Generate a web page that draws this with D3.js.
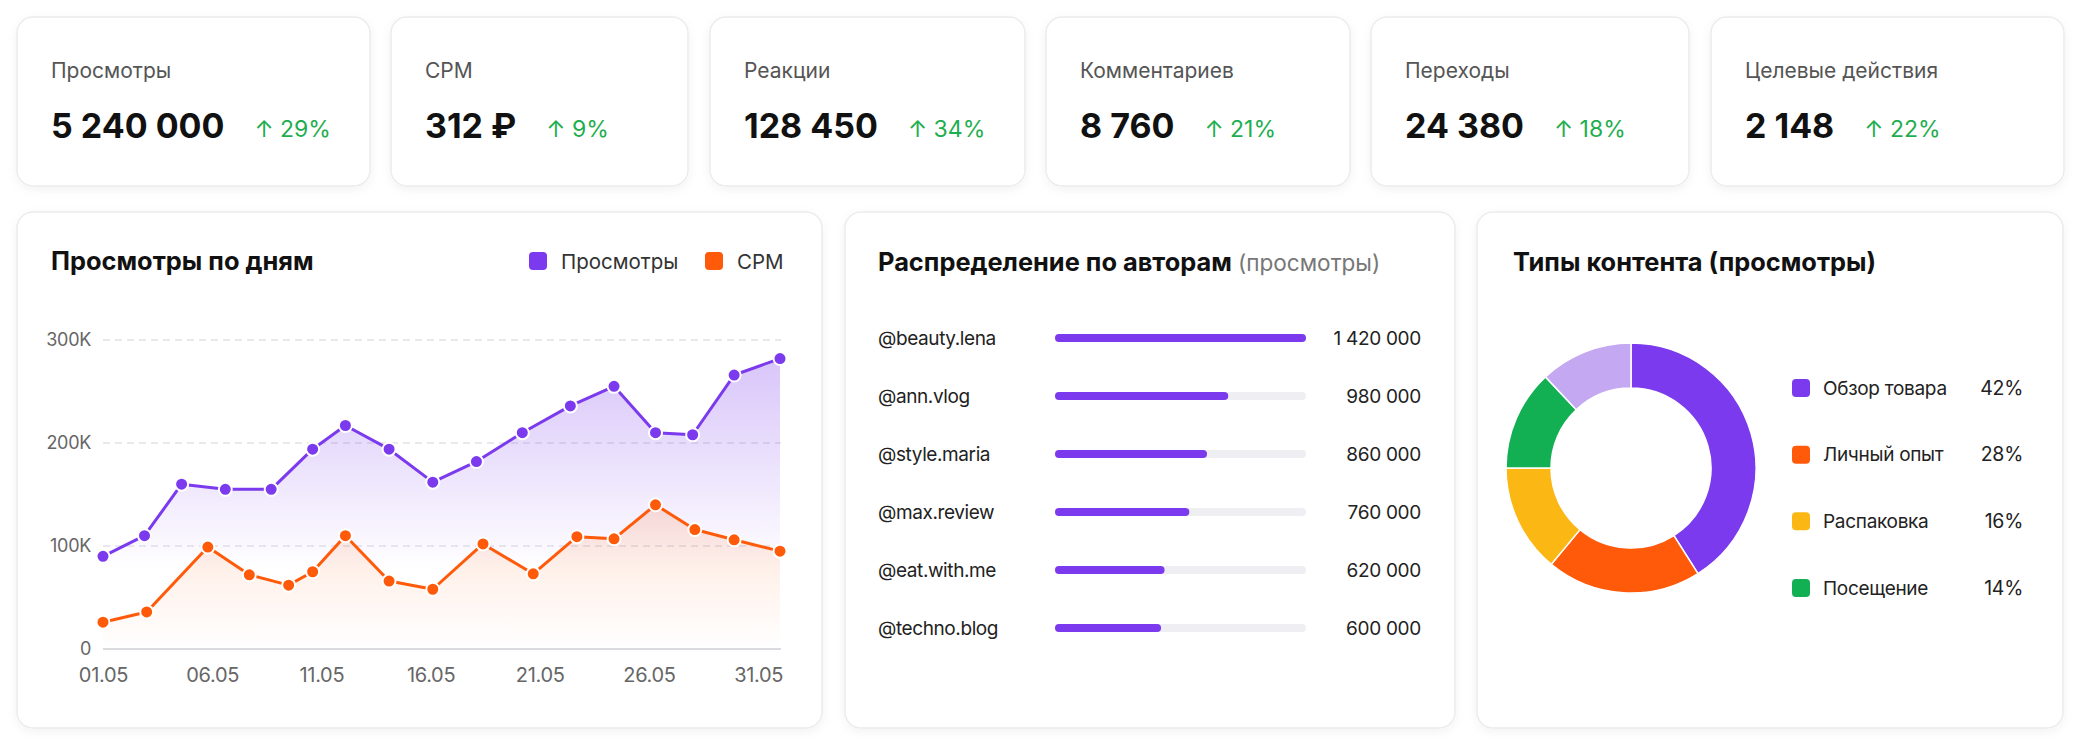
<!DOCTYPE html>
<html>
<head>
<meta charset="utf-8">
<script src="https://cdn.jsdelivr.net/npm/d3@7"></script>
<style>
  html, body { margin: 0; padding: 0; background: #ffffff; }
  svg { display: block; font-family: Inter, "Noto Sans", sans-serif; }
</style>
</head>
<body>
<div id="chart"></div>
<script>
// KPI cards
const kpiLabels = ['Просмотры', 'CPM', 'Реакции', 'Комментариев', 'Переходы', 'Целевые действия'];
const kpiValues = ['5 240 000', '312 ₽', '128 450', '8 760', '24 380', '2 148'];
const kpiChanges = ['29%', '9%', '34%', '21%', '18%', '22%'];

// daily chart (day of May, value)
const viewDays = [1, 2.9, 4.6, 6.6, 8.7, 10.6, 12.1, 14.1, 16.1, 18.1, 20.2, 22.4, 24.4, 26.3, 28.0, 29.9, 32];
const viewValues = [90000, 110000, 160000, 155000, 155000, 194000, 217000, 194000, 162000, 182000, 210000, 236000, 255000, 210000, 208000, 266000, 282000];
const cpmDays = [1, 3, 5.8, 7.7, 9.5, 10.6, 12.1, 14.1, 16.1, 18.4, 20.7, 22.7, 24.4, 26.3, 28.1, 29.9, 32];
const cpmValues = [26000, 36000, 99000, 72000, 62000, 75000, 110000, 66000, 58000, 102000, 73000, 109000, 107000, 140000, 116000, 106000, 95000];
const dayTicks = [1, 6, 11, 16, 21, 26, 31];
const dayTickLabels = ['01.05', '06.05', '11.05', '16.05', '21.05', '26.05', '31.05'];
const yTicks = [0, 100000, 200000, 300000];
const yTickLabels = ['0', '100K', '200K', '300K'];

// authors
const authors = ['@beauty.lena', '@ann.vlog', '@style.maria', '@max.review', '@eat.with.me', '@techno.blog'];
const authorViews = [1420000, 980000, 860000, 760000, 620000, 600000];
const authorLabels = ['1 420 000', '980 000', '860 000', '760 000', '620 000', '600 000'];

// content types
const contentTypes = ['Обзор товара', 'Личный опыт', 'Распаковка', 'Посещение'];
const contentShares = ['42%', '28%', '16%', '14%'];
const donutValues = [41, 20, 14, 13, 12];

const purple = '#7b3aed';
const orange = '#ff5a0a';
const donutColors = [purple, orange, '#fbb714', '#12b052', '#c4a8f1'];

const W = 2079, H = 756;
const svg = d3.select('#chart').append('svg').attr('width', W).attr('height', H);
const defs = svg.append('defs');

const shadow = defs.append('filter').attr('id', 'shadow')
  .attr('x', '-10%').attr('y', '-10%').attr('width', '120%').attr('height', '130%');
shadow.append('feDropShadow').attr('dx', 0).attr('dy', 3).attr('stdDeviation', 5)
  .attr('flood-color', '#000').attr('flood-opacity', 0.05);

function card(x, y, w, h) {
  svg.append('rect')
    .attr('x', x).attr('y', y).attr('width', w).attr('height', h)
    .attr('rx', 16)
    .attr('fill', '#fff')
    .attr('stroke', '#ececf0')
    .attr('stroke-width', 1.5)
    .attr('filter', 'url(#shadow)');
}

// ---- KPI row
const cardX = [17, 391, 710, 1046, 1371, 1711];
const cardW = [353, 297, 315, 304, 318, 353];
kpiLabels.forEach((label, i) => {
  card(cardX[i], 17, cardW[i], 169);
  const tx = cardX[i] + 34;
  svg.append('text').attr('x', tx).attr('y', 78)
    .attr('font-size', 21).attr('fill', '#555')
    .text(label);
  const val = svg.append('text').attr('x', tx).attr('y', 138)
    .attr('font-size', 34).attr('font-weight', 700).attr('fill', '#111')
    .text(kpiValues[i]);
  const vw = val.node().getComputedTextLength();
  svg.append('text').attr('x', tx + vw + 30).attr('y', 137)
    .attr('font-size', 23).attr('fill', '#1fae4f')
    .text('↑ ' + kpiChanges[i]);
});

// ---- Panels
card(17, 212, 805, 516);
card(845, 212, 610, 516);
card(1477, 212, 586, 516);

// ---- Line chart
svg.append('text').attr('x', 51).attr('y', 270)
  .attr('font-size', 25.4).attr('font-weight', 700).attr('fill', '#111')
  .text('Просмотры по дням');

const legendItems = [['Просмотры', purple, 529], ['CPM', orange, 705]];
legendItems.forEach(([name, color, lx]) => {
  svg.append('rect').attr('x', lx).attr('y', 252).attr('width', 18).attr('height', 18)
    .attr('rx', 4).attr('fill', color);
  svg.append('text').attr('x', lx + 32).attr('y', 269)
    .attr('font-size', 20.5).attr('fill', '#333').text(name);
});

const x = d3.scaleLinear().domain([1, 32]).range([103, 780]);
const y = d3.scaleLinear().domain([0, 300000]).range([649, 340]);

// grid
svg.append('g').selectAll('line')
  .data(yTicks.slice(1))
  .join('line')
  .attr('x1', 103).attr('x2', 781)
  .attr('y1', d => y(d)).attr('y2', d => y(d))
  .attr('stroke', '#e2e2e8').attr('stroke-width', 1.5)
  .attr('stroke-dasharray', '7 5');
svg.append('line')
  .attr('x1', 103).attr('x2', 781).attr('y1', y(0)).attr('y2', y(0))
  .attr('stroke', '#cfcfd4').attr('stroke-width', 1.5);

const yAxis = svg.append('g').attr('transform', 'translate(91,0)')
  .call(d3.axisLeft(y).tickValues(yTicks).tickSize(0).tickPadding(0)
    .tickFormat((d, i) => yTickLabels[i]));
yAxis.select('.domain').remove();
yAxis.selectAll('text').attr('font-size', 18).attr('fill', '#666')
  .attr('letter-spacing', -0.3)
  .attr('font-family', 'Inter, sans-serif');

const xAxis = svg.append('g').attr('transform', 'translate(0,' + y(0) + ')')
  .call(d3.axisBottom(x).tickValues(dayTicks).tickSize(0).tickPadding(19)
    .tickFormat((d, i) => dayTickLabels[i]));
xAxis.select('.domain').remove();
xAxis.selectAll('text').attr('font-size', 20).attr('fill', '#666')
  .attr('letter-spacing', -0.3)
  .attr('font-family', 'Inter, sans-serif');

function gradient(id, color, y1, y2, op) {
  const g = defs.append('linearGradient').attr('id', id)
    .attr('gradientUnits', 'userSpaceOnUse')
    .attr('x1', 0).attr('x2', 0).attr('y1', y1).attr('y2', y2);
  g.append('stop').attr('offset', 0).attr('stop-color', color).attr('stop-opacity', op);
  g.append('stop').attr('offset', 1).attr('stop-color', color).attr('stop-opacity', 0);
}
gradient('gradViews', purple, 340, 570, 0.32);
gradient('gradCpm', orange, 410, 649, 0.26);

const series = [
  { days: viewDays, values: viewValues, color: purple, grad: 'gradViews' },
  { days: cpmDays, values: cpmValues, color: orange, grad: 'gradCpm' }
];

series.forEach(s => {
  const pts = s.days.map((d, i) => [d, s.values[i]]);
  svg.append('path').datum(pts)
    .attr('fill', 'url(#' + s.grad + ')')
    .attr('d', d3.area().x(d => x(d[0])).y0(y(0)).y1(d => y(d[1])));
});
series.forEach(s => {
  const pts = s.days.map((d, i) => [d, s.values[i]]);
  svg.append('path').datum(pts)
    .attr('fill', 'none').attr('stroke', s.color).attr('stroke-width', 3)
    .attr('stroke-linejoin', 'round')
    .attr('d', d3.line().x(d => x(d[0])).y(d => y(d[1])));
  svg.append('g').selectAll('circle').data(pts).join('circle')
    .attr('cx', d => x(d[0])).attr('cy', d => y(d[1]))
    .attr('r', 6.5).attr('fill', s.color)
    .attr('stroke', '#fff').attr('stroke-width', 2);
});

// ---- Authors
const t2 = svg.append('text').attr('x', 878).attr('y', 271).attr('fill', '#111');
t2.append('tspan').attr('font-size', 25.4).attr('font-weight', 700).text('Распределение по авторам ');
t2.append('tspan').attr('font-size', 22.6).attr('fill', '#777').text('(просмотры)');

const rowY = d3.scalePoint().domain(authors).range([338, 628]);
const barX = d3.scaleLinear().domain([0, 1420000]).range([1055, 1306]);

const rows = svg.append('g').selectAll('g').data(authors).join('g')
  .attr('transform', d => 'translate(0,' + rowY(d) + ')');
rows.append('text').attr('x', 878).attr('dy', '0.35em')
  .attr('font-size', 19).attr('letter-spacing', -0.4).attr('fill', '#222').text(d => d);
rows.append('rect').attr('x', barX(0)).attr('y', -4)
  .attr('width', barX(1420000) - barX(0)).attr('height', 8).attr('rx', 4)
  .attr('fill', '#efeff3');
rows.append('rect').attr('x', barX(0)).attr('y', -4)
  .attr('width', (d, i) => barX(authorViews[i]) - barX(0)).attr('height', 8).attr('rx', 4)
  .attr('fill', purple);
rows.append('text').attr('x', 1421).attr('dy', '0.35em').attr('text-anchor', 'end')
  .attr('font-size', 19).attr('letter-spacing', -0.3).attr('fill', '#222').text((d, i) => authorLabels[i]);

// ---- Content types donut
svg.append('text').attr('x', 1513).attr('y', 271)
  .attr('font-size', 25.4).attr('font-weight', 700).attr('fill', '#111')
  .text('Типы контента (просмотры)');

const pie = d3.pie().sort(null).value(d => d);
const arc = d3.arc().innerRadius(80).outerRadius(125);
svg.append('g').attr('transform', 'translate(1631,468)')
  .selectAll('path').data(pie(donutValues)).join('path')
  .attr('d', arc)
  .attr('fill', (d, i) => donutColors[i])
  .attr('stroke', '#fff').attr('stroke-width', 1.5);

const legY = d3.scalePoint().domain(contentTypes).range([388, 588]);
const leg = svg.append('g').selectAll('g').data(contentTypes).join('g')
  .attr('transform', d => 'translate(0,' + legY(d) + ')');
leg.append('rect').attr('x', 1792).attr('y', -9).attr('width', 18).attr('height', 18)
  .attr('rx', 4).attr('fill', (d, i) => donutColors[i]);
leg.append('text').attr('x', 1823).attr('dy', '0.35em')
  .attr('font-size', 19).attr('letter-spacing', -0.3).attr('fill', '#222').text(d => d);
leg.append('text').attr('x', 2023).attr('dy', '0.35em').attr('text-anchor', 'end')
  .attr('font-size', 19.5).attr('letter-spacing', -0.3).attr('fill', '#222').text((d, i) => contentShares[i]);
</script>
</body>
</html>
